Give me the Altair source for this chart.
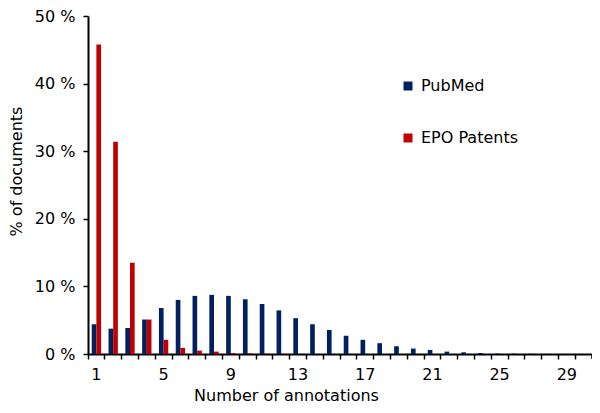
import altair as alt
import pandas as pd

annotations = list(range(1, 31))
pubmed = [4.4, 3.75, 3.85, 5.1, 6.8, 8.0, 8.6, 8.75, 8.6, 8.1, 7.4, 6.45, 5.3, 4.4,
          3.55, 2.7, 2.1, 1.6, 1.15, 0.8, 0.6, 0.35, 0.25, 0.15, 0.08, 0.05, 0.03,
          0.02, 0.01, 0.01]
epo = [45.8, 31.4, 13.5, 5.1, 2.1, 0.9, 0.5, 0.35, 0.15, 0.1, 0.05, 0.03, 0.02,
       0.01, 0.01, 0, 0, 0, 0, 0, 0, 0, 0, 0, 0, 0, 0, 0, 0, 0]
series = ["PubMed", "EPO Patents"]
colors = ["#002060", "#C00000"]

rows = []
for i, n in enumerate(annotations):
    rows.append({"n": n, "series": series[0], "pct": pubmed[i]})
    rows.append({"n": n, "series": series[1], "pct": epo[i]})
df = pd.DataFrame(rows)

FONT = "DejaVu Sans"
W, H = 504, 338

bars = alt.Chart(df).mark_bar().encode(
    x=alt.X("n:O",
            scale=alt.Scale(paddingInner=0, paddingOuter=0),
            axis=alt.Axis(title="Number of annotations", labelAngle=0,
                          labelExpr="(datum.value - 1) % 4 == 0 ? datum.label : ''",
                          bandPosition=0, tickSize=5,
                          labelPadding=7, titleX=198, titleY=33,
                          domainColor="black", tickColor="black",
                          domainWidth=2, tickWidth=1.5)),
    xOffset=alt.XOffset("series:N", scale=alt.Scale(domain=series, paddingOuter=0.8,
                                                   paddingInner=0)),
    y=alt.Y("pct:Q",
            scale=alt.Scale(domain=[0, 50], nice=False),
            axis=alt.Axis(title="% of documents", values=[0, 10, 20, 30, 40, 50],
                          labelExpr="datum.value + ' %'", grid=False, tickSize=5,
                          labelPadding=8, titleX=-72, titleY=155,
                          titleAngle=-90, titleAlign="center", titleBaseline="middle",
                          domainColor="black", tickColor="black",
                          domainWidth=2, tickWidth=1.5)),
    color=alt.Color("series:N",
                    scale=alt.Scale(domain=series, range=colors),
                    legend=alt.Legend(title=None, orient="none", legendX=312,
                                      legendY=62, symbolType="square",
                                      symbolSize=81, rowPadding=36,
                                      labelFontSize=16, labelFont=FONT,
                                      labelColor="black", symbolStrokeWidth=0,
                                      labelOffset=5)),
)

end_tick = alt.Chart(pd.DataFrame({"v": [0]})).mark_rule(color="black", strokeWidth=1.5).encode(
    x=alt.value(W), y=alt.value(H), y2=alt.value(H + 5)
)

chart = alt.layer(bars, end_tick).properties(
    width=W, height=H,
    padding={"left": 80, "top": 8, "right": 0, "bottom": 51},
    autosize="none",
).configure_view(stroke=None).configure_axis(
    labelFont=FONT, titleFont=FONT, labelFontSize=16, titleFontSize=16,
    labelColor="black", titleColor="black", titleFontWeight="normal",
)

chart.save("out.html", embed_options={"renderer": "svg", "actions": False})
